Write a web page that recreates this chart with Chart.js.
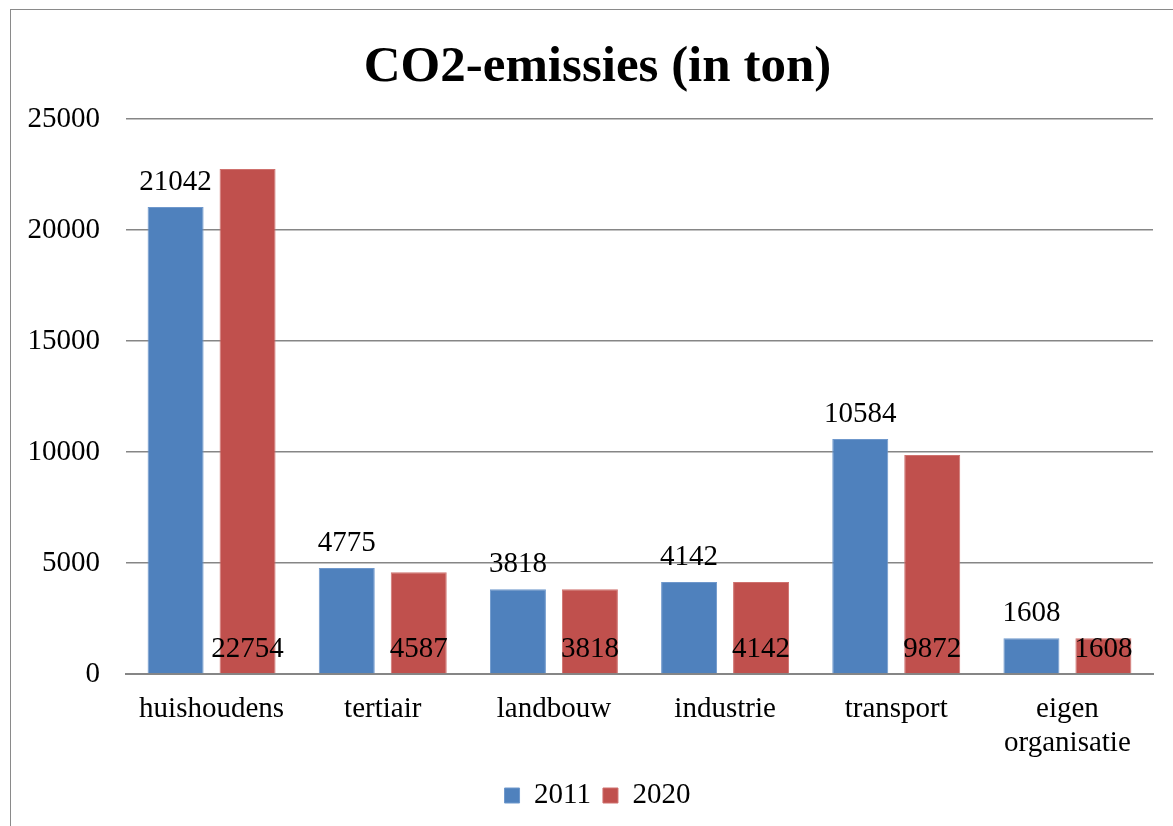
<!DOCTYPE html>
<html>
<head>
<meta charset="utf-8">
<script src="https://cdn.jsdelivr.net/npm/chart.js@4"></script>
<style>
  html, body { margin:0; padding:0; background:#fff; width:1173px; height:826px; overflow:hidden; }
  #frame { position:absolute; left:10px; top:9px; width:1180px; height:830px; border:1.5px solid #8a8a8a; box-sizing:border-box; }
  #wrap { position:absolute; left:0; top:0; width:1195px; height:826px; }
</style>
</head>
<body>
<div id="frame"></div>
<div id="wrap"><canvas id="c" width="1195" height="826"></canvas></div>
<script>
const categories = ['huishoudens', 'tertiair', 'landbouw', 'industrie', 'transport', ['eigen', 'organisatie']];
const values2011 = [21042, 4775, 3818, 4142, 10584, 1608];
const values2020 = [22754, 4587, 3818, 4142, 9872, 1608];
const seriesNames = ['2011', '2020'];
const yTicks = [0, 5000, 10000, 15000, 20000, 25000];
const chartTitle = 'CO2-emissies (in ton)';

const FONT = '"Liberation Serif", "Times New Roman", serif';

const labelPlugin = {
  id: 'valueLabels',
  afterDatasetsDraw(chart) {
    const ctx = chart.ctx;
    ctx.save();
    ctx.font = '29px ' + FONT;
    ctx.fillStyle = '#000';
    ctx.textAlign = 'center';
    ctx.textBaseline = 'alphabetic';
    chart.data.datasets.forEach((ds, di) => {
      const meta = chart.getDatasetMeta(di);
      meta.data.forEach((bar, i) => {
        const v = ds.data[i];
        if (di === 0) {
          ctx.fillText(String(v), bar.x, bar.y - 17);
        } else {
          ctx.fillText(String(v), bar.x, bar.base - 16);
        }
      });
    });
    ctx.restore();
  }
};

new Chart(document.getElementById('c'), {
  type: 'bar',
  data: {
    labels: categories,
    datasets: [
      { label: seriesNames[0], data: values2011, backgroundColor: '#4F81BD', borderColor: '#6f98cc', borderWidth: 1,
        categoryPercentage: 0.841, barPercentage: 0.778 },
      { label: seriesNames[1], data: values2020, backgroundColor: '#C0504D', borderColor: '#cf716e', borderWidth: 1,
        categoryPercentage: 0.841, barPercentage: 0.778 }
    ]
  },
  options: {
    responsive: false,
    animation: false,
    devicePixelRatio: 1,
    layout: { padding: { left: 0, right: 0, top: 0, bottom: 6 } },
    plugins: {
      title: {
        display: true,
        text: chartTitle,
        color: '#000',
        font: { family: FONT, size: 51, weight: 'bold', lineHeight: 1.2 },
        padding: { top: 37, bottom: 21 }
      },
      legend: {
        display: true,
        position: 'bottom',
        labels: {
          color: '#000',
          font: { family: FONT, size: 29 },
          boxWidth: 15,
          boxHeight: 15,
          padding: 12
        }
      },
      tooltip: { enabled: false }
    },
    scales: {
      x: {
        grid: { display: false, drawTicks: false },
        border: { display: true, color: '#868686', width: 2 },
        ticks: { color: '#000', font: { family: FONT, size: 29, lineHeight: 1.15 }, padding: 19, maxRotation: 0, autoSkip: false },
        afterFit(scale) { scale.height = 95; }
      },
      y: {
        min: 0,
        max: 25000,
        afterBuildTicks(scale) { scale.ticks = yTicks.map(v => ({ value: v })); },
        grid: { color: '#868686', lineWidth: 1.5, drawTicks: false },
        border: { display: false },
        ticks: { color: '#000', font: { family: FONT, size: 29 }, padding: 26, callback: (v) => String(v) },
        afterFit(scale) { scale.width = 126; }
      },
      yRight: {
        position: 'right',
        grid: { display: false, drawTicks: false },
        border: { display: false },
        ticks: { display: false },
        afterFit(scale) { scale.width = 42; }
      }
    }
  },
  plugins: [labelPlugin]
});
</script>
</body>
</html>
